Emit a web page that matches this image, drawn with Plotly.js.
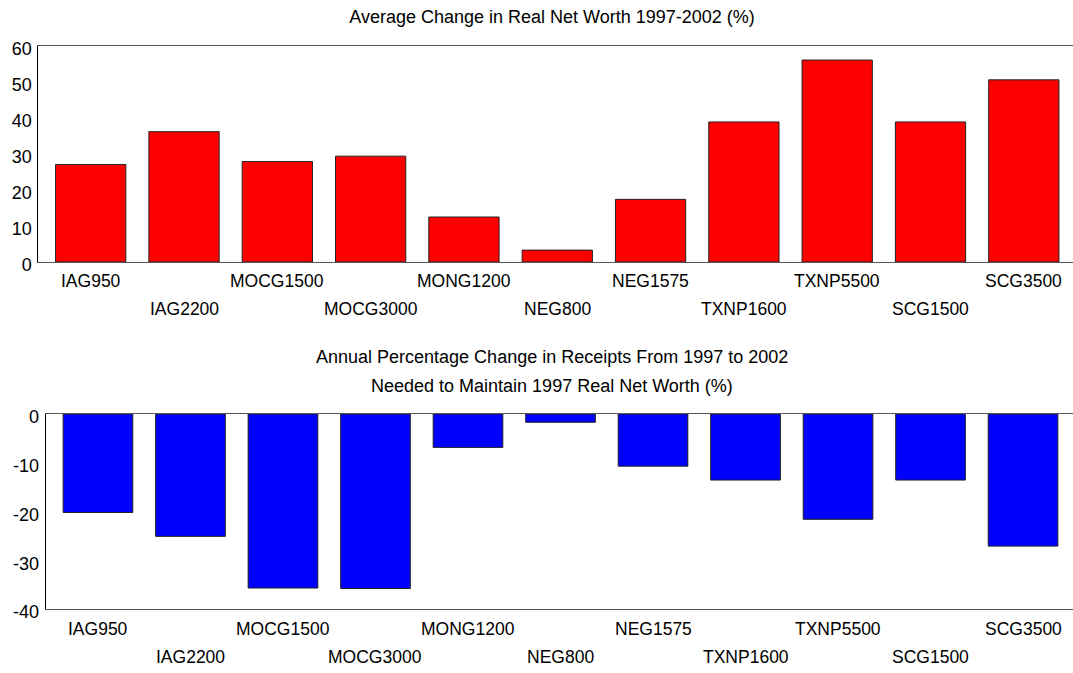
<!DOCTYPE html>
<html>
<head>
<meta charset="utf-8">
<script src="https://cdn.plot.ly/plotly-3.0.1.min.js"></script>
<style>html,body{margin:0;padding:0;background:#fff;}#chart{width:1073px;height:673px;}</style>
</head>
<body>
<div id="chart"></div>
<script>
// ---- data ----
var categories = ["IAG950","IAG2200","MOCG1500","MOCG3000","MONG1200","NEG800","NEG1575","TXNP1600","TXNP5500","SCG1500","SCG3500"];
var netWorthChange = [27.1, 36.2, 27.9, 29.4, 12.5, 3.3, 17.4, 38.9, 56.1, 38.9, 50.6];
var receiptsChange = [-20.2, -25.1, -35.7, -35.8, -6.85, -1.7, -10.7, -13.55, -21.6, -13.55, -27.1];
var topTickVals = [0, 10, 20, 30, 40, 50, 60];
var topTickText = ["0", "10", "20", "30", "40", "50", "60"];
var bottomTickVals = [0, -10, -20, -30, -40];
var bottomTickText = ["0", "-10", "-20", "-30", "-40"];
var topTitle = "Average Change in Real Net Worth 1997-2002 (%)";
var bottomTitleLines = ["Annual Percentage Change in Receipts From 1997 to 2002", "Needed to Maintain 1997 Real Net Worth (%)"];

// ---- layout helpers ----
var W = 1073, H = 673;
function py(p){ return 1 - p / H; }
var FONT = "Liberation Sans, Arial, sans-serif";

var traces = [
  {type: "bar", x: categories, y: netWorthChange, xaxis: "x", yaxis: "y",
   marker: {color: "#ff0000", line: {color: "#222222", width: 1}}, hoverinfo: "x+y"},
  {type: "bar", x: categories, y: receiptsChange, xaxis: "x2", yaxis: "y2",
   marker: {color: "#0000ff", line: {color: "#222222", width: 1}}, hoverinfo: "x+y"}
];

var annotations = [];
categories.forEach(function(c, i){
  var shift = (i % 2 === 0) ? -19.5 : -47.5;
  annotations.push({text: c, x: c, xref: "x", y: 0, yref: "y domain", yanchor: "middle", xanchor: "center",
    yshift: shift, showarrow: false, font: {family: FONT, size: 17.5, color: "#000"}});
  annotations.push({text: c, x: c, xref: "x2", y: 0, yref: "y2 domain", yanchor: "middle", xanchor: "center",
    yshift: shift - 0.5, showarrow: false, font: {family: FONT, size: 17.5, color: "#000"}});
});
annotations.push({text: bottomTitleLines[0], x: 552 / W, xref: "paper", y: py(356.5), yref: "paper",
  xanchor: "center", yanchor: "middle", showarrow: false, font: {family: FONT, size: 18, color: "#000"}});
annotations.push({text: bottomTitleLines[1], x: 552 / W, xref: "paper", y: py(385.5), yref: "paper",
  xanchor: "center", yanchor: "middle", showarrow: false, font: {family: FONT, size: 18, color: "#000"}});

var layout = {
  width: W, height: H,
  margin: {l: 0, r: 0, t: 0, b: 0, pad: 0},
  paper_bgcolor: "#fff", plot_bgcolor: "#fff",
  showlegend: false,
  font: {family: FONT, size: 17, color: "#000"},
  bargap: 0.247,
  title: {text: topTitle, x: 552 / W, xanchor: "center", xref: "paper", y: py(17), yanchor: "middle", yref: "paper",
    font: {family: FONT, size: 18, color: "#000"}},
  xaxis: {domain: [38.3 / W, 1], range: [-0.5616, 10.527], type: "category", anchor: "y",
    showticklabels: false, ticks: "", showgrid: false, zeroline: false,
    showline: true, linecolor: "#555555", linewidth: 1, mirror: true, fixedrange: true},
  yaxis: {domain: [py(262), py(46)], range: [0, 60], anchor: "x",
    tickvals: topTickVals, ticktext: topTickText, ticks: "", showgrid: false, zeroline: false,
    ticklabelstandoff: 2, ticklabelshift: 3,
    showline: true, linecolor: "#000", linewidth: 1, tickfont: {family: FONT, size: 18, color: "#000"}, fixedrange: true},
  xaxis2: {domain: [45.7 / W, 1], range: [-0.565, 10.54], type: "category", anchor: "y2",
    showticklabels: false, ticks: "", showgrid: false, zeroline: false,
    showline: true, linecolor: "#555555", linewidth: 1, mirror: true, fixedrange: true},
  yaxis2: {domain: [py(609), py(414)], range: [-40, 0], anchor: "x2",
    tickvals: bottomTickVals, ticktext: bottomTickText, ticks: "", showgrid: false, zeroline: false,
    ticklabelstandoff: 2, ticklabelshift: 3,
    showline: true, linecolor: "#000", linewidth: 1, tickfont: {family: FONT, size: 18, color: "#000"}, fixedrange: true},
  annotations: annotations
};

Plotly.newPlot("chart", traces, layout, {displayModeBar: false, staticPlot: true});
</script>
</body>
</html>
